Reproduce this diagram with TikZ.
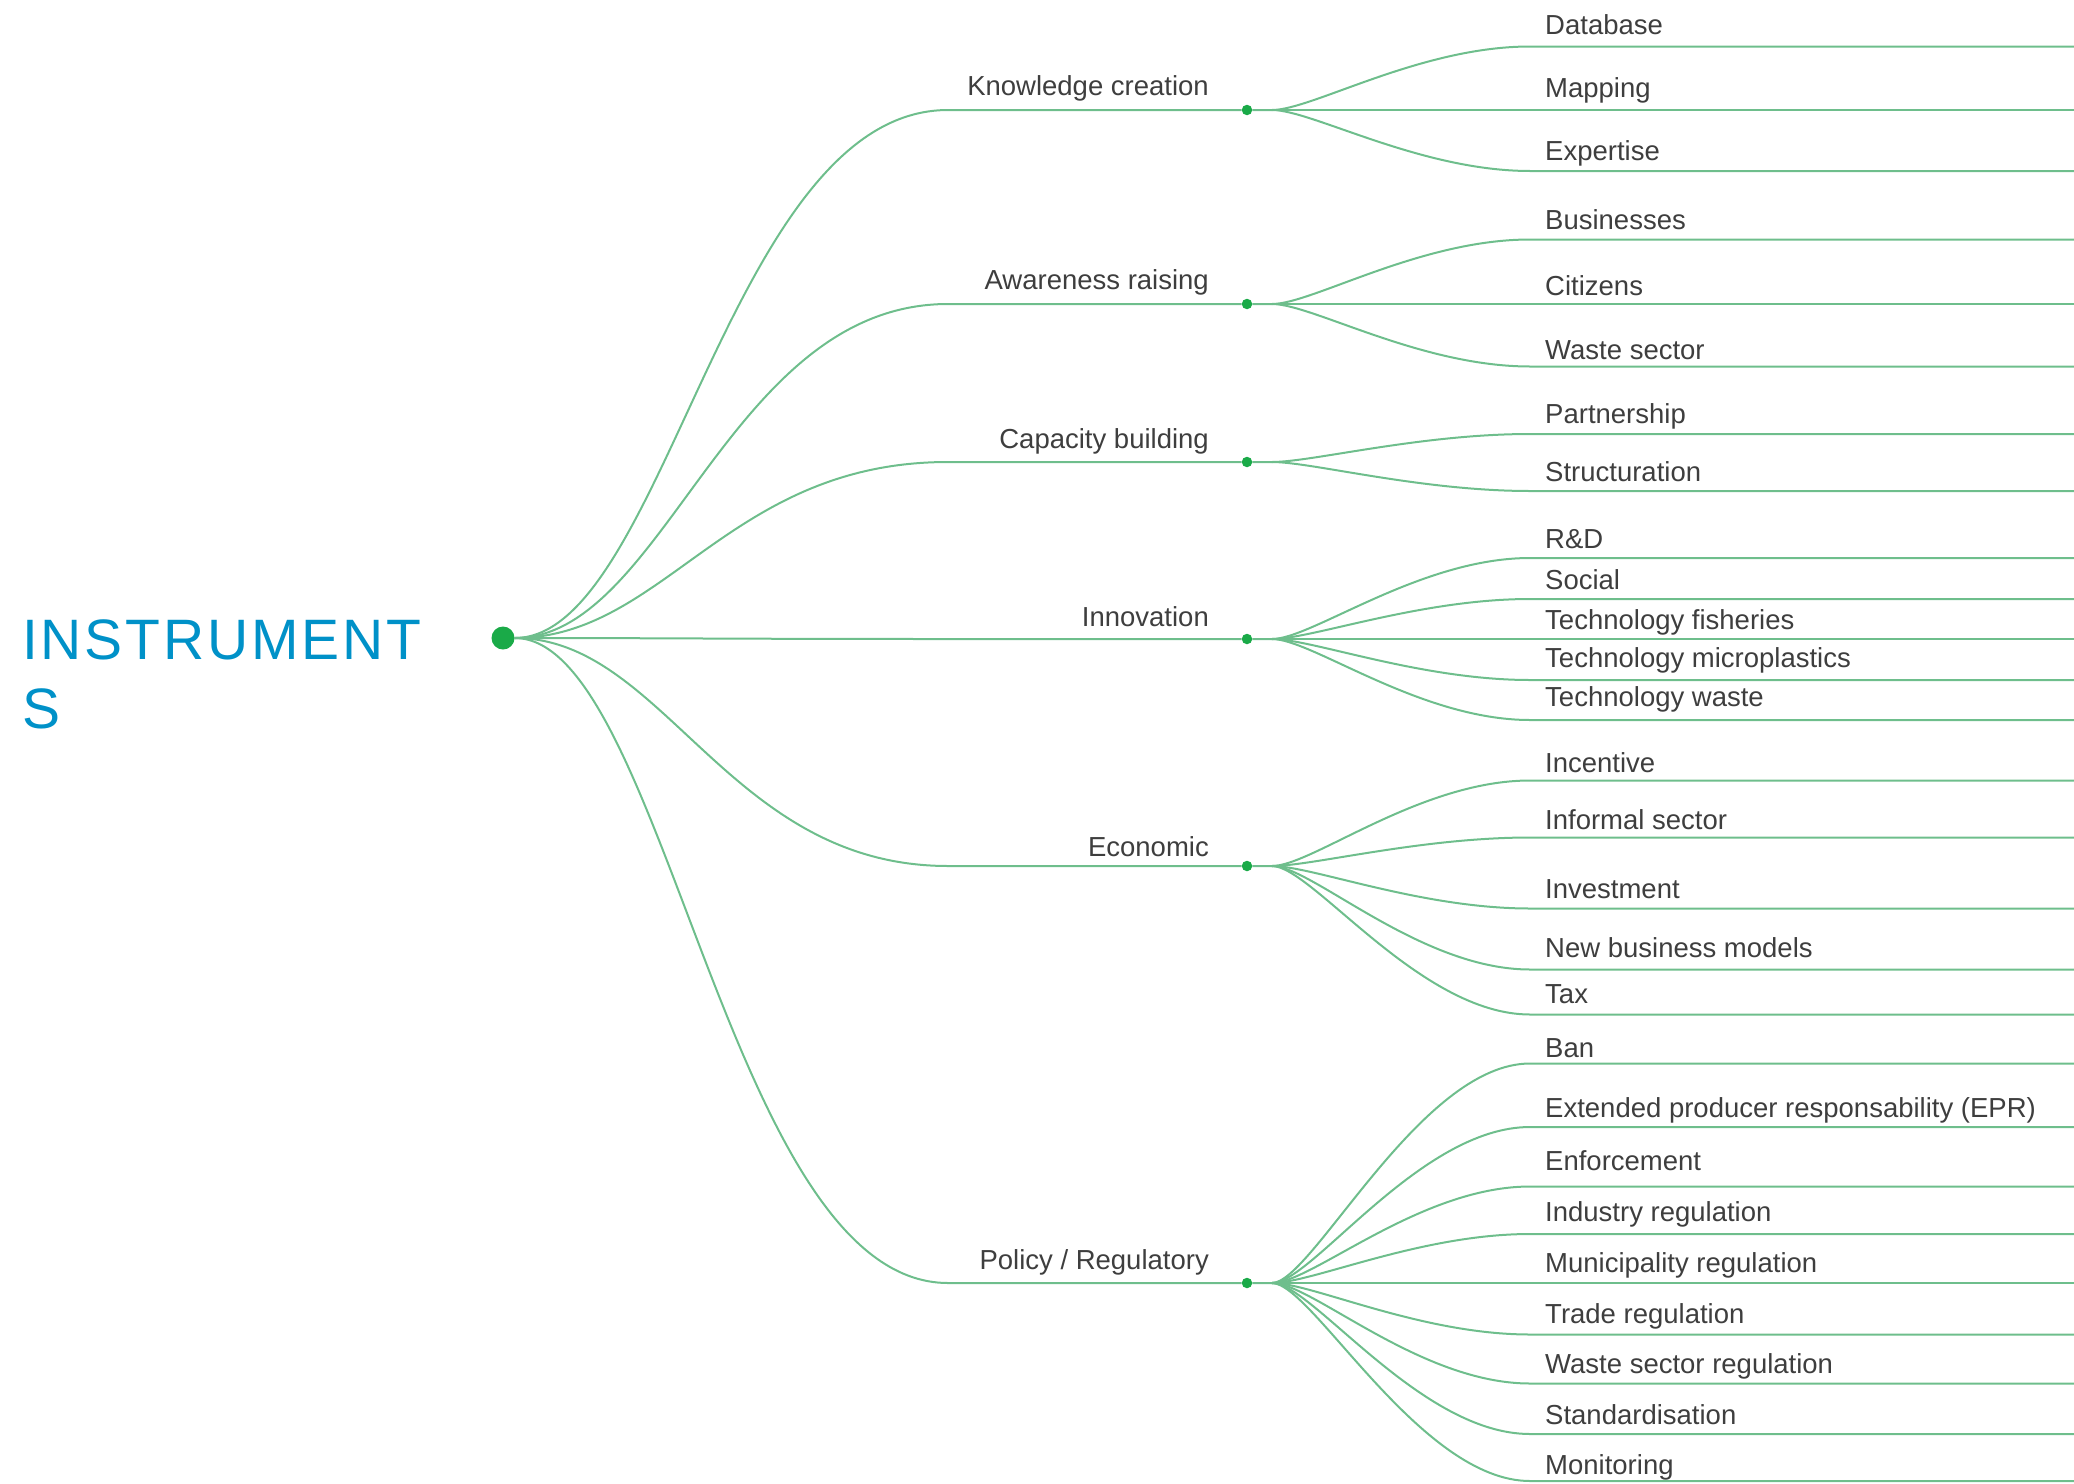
\documentclass[tikz,border=0pt]{standalone}
\usepackage{fontspec}
\setmainfont{Liberation Sans}
\newfontfamily\titlefont[LetterSpace=5]{Liberation Sans}
\definecolor{linegreen}{RGB}{110,190,140}
\definecolor{dotgreen}{RGB}{26,170,72}
\definecolor{textgray}{RGB}{62,62,62}
\definecolor{titleblue}{RGB}{0,145,200}
% #1 name, #2 line y, #3 label offset, #4 text
\newcommand\mmbranch[4]{%
  \node[middot] (#1) at (1247,#2) {};
  \coordinate (#1s) at (948,#2);
  \coordinate (#1f) at (1272,#2);
  \draw[edge] (root) to[out=0,in=180,out distance=150pt,in distance=220pt] (#1s) -- (#1) -- (#1f);
  \node[midlab] (#1t) at (1209,#2-11+#3) {#4};
}
% #1 parent, #2 name, #3 line y, #4 label offset, #5 text
\newcommand\mmleaf[5]{%
  \coordinate (#2s) at (1530,#3);
  \coordinate (#2e) at (2074,#3);
  \draw[edge] (#1f) to[out=0,in=180,out distance=40pt,in distance=110pt] (#2s) -- (#2e);
  \node[leaflab] (#2) at (1545,#3-11+#4) {#5};
}
\begin{document}
\begin{tikzpicture}[x=1pt,y=-1pt,
  edge/.style={draw=linegreen,line width=2pt},
  middot/.style={circle,fill=dotgreen,inner sep=0pt,minimum size=10.5pt},
  rootdot/.style={circle,fill=dotgreen,inner sep=0pt,minimum size=23pt},
  midlab/.style={anchor=base east,inner sep=0pt,text=textgray,font=\fontsize{27.5}{33}\selectfont},
  leaflab/.style={anchor=base west,inner sep=0pt,text=textgray,font=\fontsize{27.5}{33}\selectfont},
  titlelab/.style={anchor=base west,inner sep=0pt,text=titleblue,font=\fontsize{57}{66}\titlefont}]
\useasboundingbox (0,0) rectangle (2074,1483);
\node[titlelab] (title1) at (22,659) {INSTRUMENT};
\node[titlelab] (title2) at (22,728) {S};
\node[rootdot] (root) at (503,638) {};
\mmbranch{k}{110}{-4}{Knowledge creation}
\mmbranch{a}{304}{-4}{Awareness raising}
\mmbranch{c}{462}{-2.6}{Capacity building}
\mmbranch{i}{639}{-1.3}{Innovation}
\mmbranch{e}{866}{1.3}{Economic}
\mmbranch{p}{1283}{-2.6}{Policy / Regulatory}
% Knowledge creation
\mmleaf{k}{k1}{46.5}{-1.3}{Database}
\mmleaf{k}{k2}{110}{-1.3}{Mapping}
\mmleaf{k}{k3}{171}{0}{Expertise}
% Awareness raising
\mmleaf{a}{a1}{239.5}{1.3}{Businesses}
\mmleaf{a}{a2}{304}{2.6}{Citizens}
\mmleaf{a}{a3}{366.5}{4}{Waste sector}
% Capacity building
\mmleaf{c}{c1}{434}{0}{Partnership}
\mmleaf{c}{c2}{491}{1.3}{Structuration}
% Innovation
\mmleaf{i}{i1}{558}{1.3}{R\&D}
\mmleaf{i}{i2}{599}{1.3}{Social}
\mmleaf{i}{i3}{639}{1.3}{Technology fisheries}
\mmleaf{i}{i4}{680}{-1.3}{Technology microplastics}
\mmleaf{i}{i5}{720}{-2.6}{Technology waste}
% Economic
\mmleaf{e}{e1}{780.5}{2.6}{Incentive}
\mmleaf{e}{e2}{837.5}{2.6}{Informal sector}
\mmleaf{e}{e3}{908.5}{1.3}{Investment}
\mmleaf{e}{e4}{969.5}{-1.3}{New business models}
\mmleaf{e}{e5}{1014.5}{0}{Tax}
% Policy / Regulatory
\mmleaf{p}{p1}{1063.5}{5.3}{Ban}
\mmleaf{p}{p2}{1127}{1.3}{Extended producer responsability (EPR)}
\mmleaf{p}{p3}{1186.5}{-5.3}{Enforcement}
\mmleaf{p}{p4}{1234}{-1.3}{Industry regulation}
\mmleaf{p}{p5}{1283}{0}{Municipality regulation}
\mmleaf{p}{p6}{1334.5}{0}{Trade regulation}
\mmleaf{p}{p7}{1383.5}{1.3}{Waste sector regulation}
\mmleaf{p}{p8}{1434}{1.3}{Standardisation}
\mmleaf{p}{p9}{1481}{4}{Monitoring}
\end{tikzpicture}
\end{document}
